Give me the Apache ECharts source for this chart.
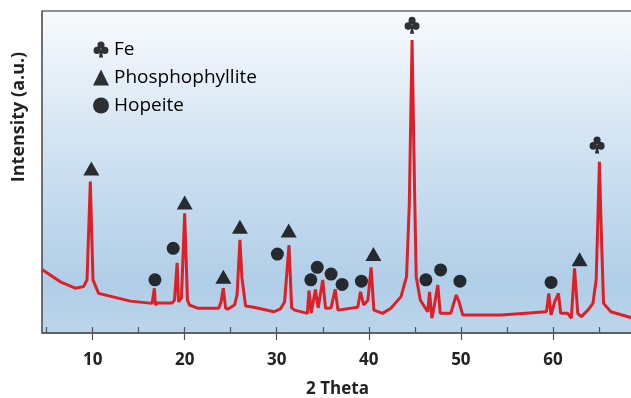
<!DOCTYPE html>
<html>
<head>
<meta charset="utf-8">
<script src="https://cdn.jsdelivr.net/npm/echarts@6/dist/echarts.min.js"></script>
<style>html,body{margin:0;padding:0;background:#fff;}#c{width:631px;height:398px;}</style>
</head>
<body>
<div id="c"></div>
<script>
// XRD pattern: 2-theta positions and intensities (a.u.)
var twoTheta = [4.5, 6.49, 8.12, 9.02, 9.39, 9.75, 10.04, 10.65, 14.1, 16.46, 16.71, 16.82, 17.04, 18.64, 18.89, 19.18, 19.33, 19.65, 20.0, 20.3, 20.52, 21.4, 23.7, 23.95, 24.19, 24.44, 24.66, 25.42, 25.69, 26.0, 26.22, 26.43, 26.62, 27.5, 29.7, 30.4, 30.85, 31.33, 31.62, 31.95, 33.33, 33.5, 33.75, 34.2, 34.5, 35.0, 35.3, 35.9, 36.35, 36.65, 38.8, 39.1, 39.45, 39.9, 40.25, 40.55, 41.5, 42.4, 43.5, 44.1, 44.4, 44.7, 45.0, 45.15, 45.6, 46.4, 46.6, 46.85, 47.1, 47.5, 47.76, 48.9, 49.5, 49.8, 50.2, 54.4, 59.3, 59.55, 59.8, 60.2, 60.6, 60.85, 61.6, 62.0, 62.35, 62.7, 63.1, 63.8, 64.35, 64.7, 64.9, 65.05, 65.25, 65.5, 66.3, 68.7];
var intensity = [19.7, 15.9, 13.9, 14.4, 16.5, 47.0, 16.5, 12.3, 9.9, 9.2, 13.9, 8.7, 9.3, 9.3, 10.2, 21.8, 9.7, 10.9, 37.2, 10.2, 8.7, 7.7, 7.7, 9.6, 13.9, 7.8, 7.4, 8.7, 11.8, 28.9, 17.1, 17.3, 8.4, 8.0, 6.6, 7.5, 9.6, 27.3, 7.8, 7.1, 6.1, 13.2, 6.2, 13.5, 7.8, 16.5, 7.7, 7.8, 13.6, 7.1, 8.0, 12.8, 8.7, 10.2, 20.4, 7.1, 6.1, 7.7, 11.3, 17.5, 40.0, 91.0, 40.0, 17.5, 10.2, 6.6, 12.8, 4.6, 8.2, 14.9, 6.1, 6.1, 11.8, 9.7, 5.6, 5.6, 6.6, 12.3, 5.6, 9.7, 12.3, 6.1, 6.1, 4.6, 20.1, 6.1, 5.1, 7.1, 9.2, 16.5, 37.0, 53.2, 32.0, 9.2, 6.6, 4.6];

// Phase markers [2theta, height]
var feMarks = [[44.7, 95.6], [64.8, 58.4]];
var phosphophylliteMarks = [[9.86, 51.1], [20.0, 40.5], [24.2, 17.5], [26.0, 33.0], [31.3, 31.8], [40.5, 24.5], [62.9, 22.9]];
var hopeiteMarks = [[16.77, 16.5], [18.75, 26.3], [30.07, 24.5], [33.7, 16.5], [34.4, 20.4], [35.9, 18.3], [37.1, 15.1], [39.2, 16.1], [46.2, 16.5], [47.8, 19.6], [49.9, 16.1], [59.8, 15.7]];

var tickLabels = [10, 20, 30, 40, 50, 60];
var minorTicks = [5, 10, 15, 20, 25, 30, 35, 40, 45, 50, 55, 60, 65];

var clubPath = 'path://M30,28 A20,20 0 1,0 70,28 A20,20 0 1,0 30,28 Z M8,58 A20,20 0 1,0 48,58 A20,20 0 1,0 8,58 Z M52,58 A20,20 0 1,0 92,58 A20,20 0 1,0 52,58 Z M50,45 L38,98 L62,98 Z';

var lineData = twoTheta.map(function (x, i) { return [x, intensity[i]]; });

var chart = echarts.init(document.getElementById('c'), null, {renderer: 'canvas'});
var font = 'Open Sans';
chart.setOption({
  animation: false,
  backgroundColor: '#ffffff',
  textStyle: {fontFamily: font},
  grid: {
    left: 42, top: 11, right: -2, bottom: 65,
    outerBoundsMode: 'none',
    containLabel: false,
    show: true,
    borderColor: '#222',
    borderWidth: 1,
    backgroundColor: new echarts.graphic.LinearGradient(0, 0, 0, 1, [
      {offset: 0, color: '#f8fbfd'},
      {offset: 0.45, color: '#cfe1f1'},
      {offset: 0.85, color: '#b0cee7'},
      {offset: 1, color: '#bbd5eb'}
    ])
  },
  legend: {
    orient: 'vertical',
    left: 88, top: 35,
    itemWidth: 16, itemHeight: 16, itemGap: 9,
    textStyle: {fontSize: 19, color: '#000', fontFamily: font},
    data: [
      {name: 'Fe', icon: clubPath},
      {name: 'Phosphophyllite', icon: 'triangle'},
      {name: 'Hopeite', icon: 'circle'}
    ]
  },
  xAxis: [{
    type: 'value', min: 4.5, max: 68.7, position: 'bottom',
    name: '2 Theta', nameLocation: 'middle', nameGap: 48,
    nameTextStyle: {fontSize: 17, fontWeight: 'bold', color: '#222', fontFamily: font},
    axisLine: {show: true, lineStyle: {color: '#555', width: 1.5}},
    axisTick: {show: true, inside: true, length: 6, customValues: minorTicks, lineStyle: {color: '#555', width: 1.2}},
    axisLabel: {show: true, customValues: tickLabels, margin: 19, fontSize: 17, fontWeight: 'bold', color: '#222', fontFamily: font},
    splitLine: {show: false}
  }, {
    type: 'value', min: 4.5, max: 68.7, position: 'bottom', offset: 0,
    axisLine: {show: false},
    axisTick: {show: true, inside: false, length: 7, customValues: tickLabels, lineStyle: {color: '#555', width: 1.2}},
    axisLabel: {show: false},
    splitLine: {show: false}
  }],
  yAxis: {
    type: 'value', min: 0, max: 100,
    name: 'Intensity (a.u.)', nameLocation: 'middle', nameRotate: 90, nameGap: 14,
    nameTextStyle: {fontSize: 18, fontWeight: 'bold', color: '#222', fontFamily: font, padding: [0, 0, 0, 110]},
    axisLine: {show: true, lineStyle: {color: '#666', width: 1.5}},
    axisTick: {show: false},
    axisLabel: {show: false},
    splitLine: {show: false}
  },
  series: [{
    name: 'XRD', type: 'line', data: lineData, symbol: 'none', z: 2,
    lineStyle: {color: '#dd1f27', width: 3}
  }, {
    name: 'Fe', type: 'scatter', data: feMarks, symbol: clubPath, symbolSize: [15, 17], z: 3,
    itemStyle: {color: '#000'}
  }, {
    name: 'Phosphophyllite', type: 'scatter', data: phosphophylliteMarks, symbol: 'triangle', symbolSize: [16, 14], z: 3,
    itemStyle: {color: '#000'}
  }, {
    name: 'Hopeite', type: 'scatter', data: hopeiteMarks, symbol: 'circle', symbolSize: 13, z: 3,
    itemStyle: {color: '#000'}
  }]
});
</script>
</body>
</html>
